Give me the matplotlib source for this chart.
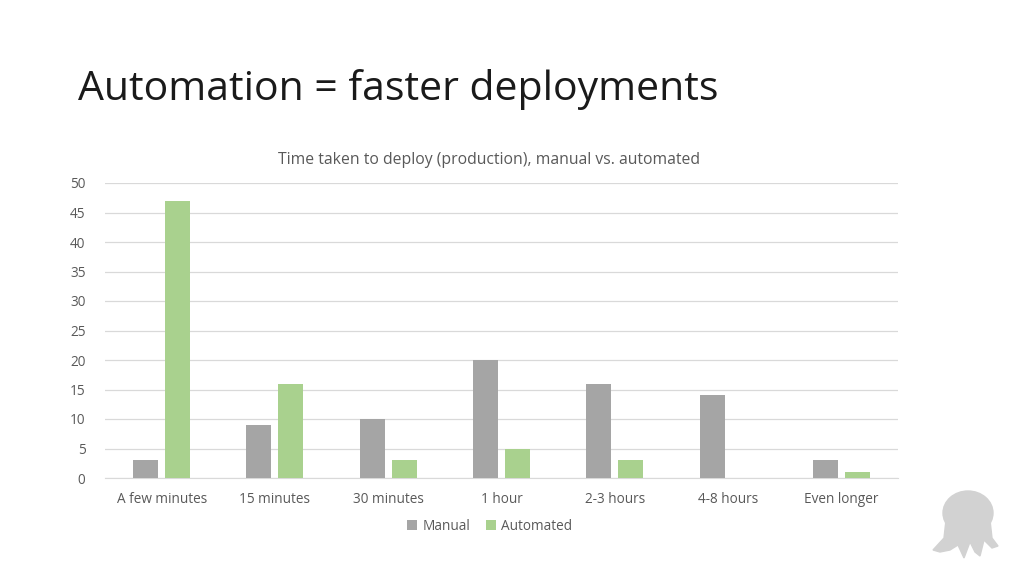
import matplotlib.pyplot as plt
import numpy as np
from matplotlib.patches import Ellipse, Polygon

# données
categories = ["A few minutes", "15 minutes", "30 minutes", "1 hour",
              "2-3 hours", "4-8 hours", "Even longer"]
manual = [3, 9, 10, 20, 16, 14, 3]
automated = [47, 16, 3, 5, 3, 0, 1]

gris = '#a5a5a5'
vert = '#a9d18e'
texte = '#595959'

plt.rcParams['font.family'] = ['Open Sans', 'DejaVu Sans']

fig = plt.figure(figsize=(10.24, 5.76), dpi=100)
fig.patch.set_facecolor('white')

fig.text(78 / 1024, 1 - 90 / 576, "Automation = faster deployments",
         fontsize=29.5, color='#1a1a1a', va='center', ha='left')

ax = fig.add_axes([105 / 1024, 1 - 478 / 576, 793 / 1024, 295 / 576])
x = np.arange(len(categories))
w = 0.22
ax.bar(x - 0.141, manual, w, color=gris, label='Manual', zorder=3)
ax.bar(x + 0.141, automated, w, color=vert, label='Automated', zorder=3)

ax.set_xlim(-0.5, len(categories) - 0.5)
ax.set_ylim(0, 50)
ax.set_yticks(range(0, 51, 5))
ax.set_xticks(x)
ax.set_xticklabels(categories)
ax.grid(axis='y', color='#d9d9d9', linewidth=0.9, zorder=0)
for s in ['top', 'right', 'left']:
    ax.spines[s].set_visible(False)
ax.spines['bottom'].set_color('#d9d9d9')
ax.tick_params(length=0, colors=texte, labelsize=9.8)
ax.tick_params(axis='x', pad=10)
ax.tick_params(axis='y', pad=14)

ax.set_title("Time taken to deploy (production), manual vs. automated",
             fontsize=11.35, color=texte, pad=14, x=(489 - 105) / 793)

leg = fig.legend(loc='center', bbox_to_anchor=(490 / 1024, 1 - 526 / 576),
                 ncol=2, frameon=False, fontsize=9.8, handlelength=0.7,
                 handleheight=0.7, handletextpad=0.4, columnspacing=1.2)
for t in leg.get_texts():
    t.set_color(texte)

# logo pieuvre (approximatif)
logo = fig.add_axes([900 / 1024, 0, 124 / 1024, 96 / 576])
logo.set_xlim(900, 1024)
logo.set_ylim(576, 480)
logo.axis('off')
c = '#d2d2d2'
logo.add_patch(Ellipse((968, 513), 50, 44, color=c))
logo.add_patch(Polygon([(946, 520), (990, 520), (992, 538), (998, 546),
                        (992, 548), (984, 540), (980, 556), (975, 552),
                        (970, 542), (964, 558), (958, 545), (950, 550),
                        (940, 552), (933, 550), (944, 538)], closed=True, color=c))

fig.savefig('out.png', dpi=100)
